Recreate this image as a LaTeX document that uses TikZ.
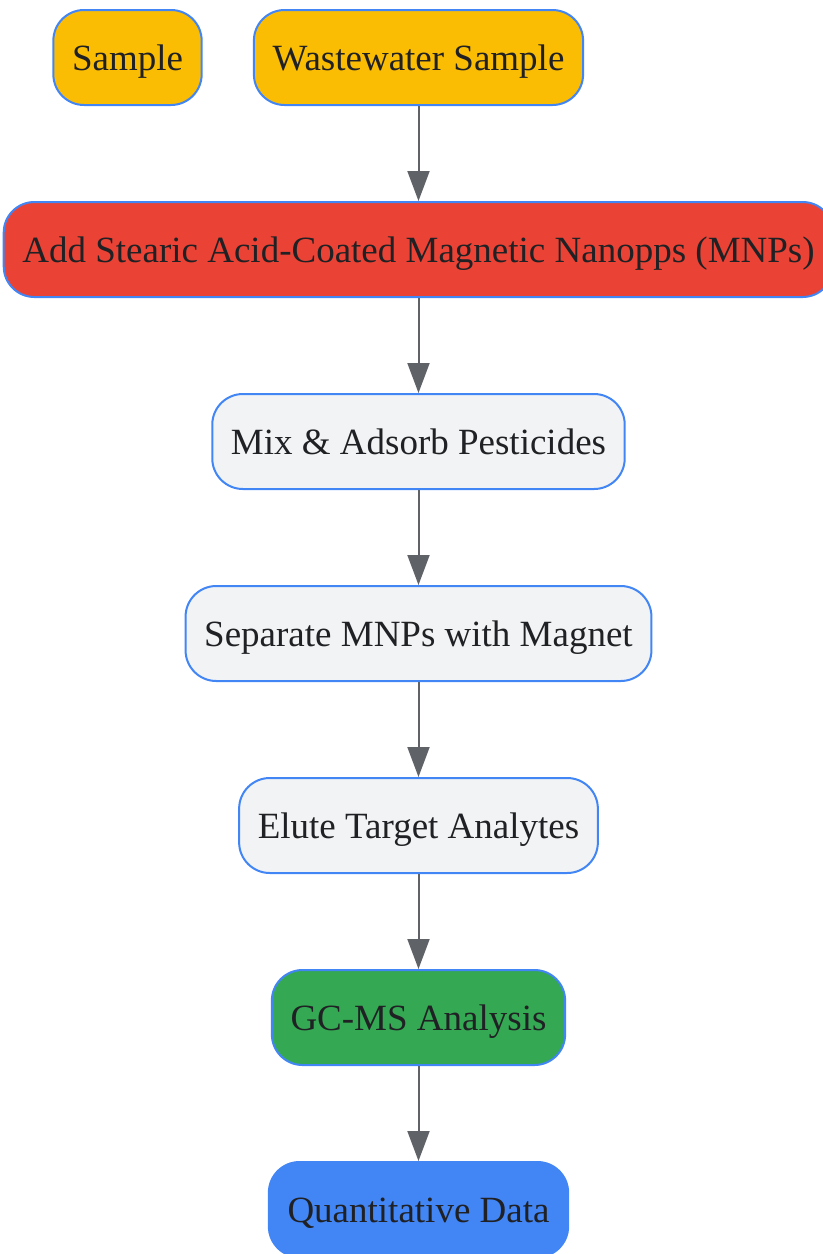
\documentclass[tikz,border=0pt]{standalone}
\usepackage{fontspec}
\setmainfont{Liberation Serif}
\usepackage{xcolor}
\usetikzlibrary{positioning,arrows.meta}
\definecolor{mgyellow}{HTML}{FBBC04}
\definecolor{mgred}{HTML}{EA4335}
\definecolor{mglight}{HTML}{F1F3F4}
\definecolor{mggreen}{HTML}{34A853}
\definecolor{mgblue}{HTML}{4285F4}
\definecolor{mgarrow}{HTML}{5F6368}
\definecolor{mgtext}{HTML}{202124}

\tikzset{
  stage/.style={draw=mgblue, line width=1.5pt, rounded corners=23pt,
    minimum height=71.25pt, inner xsep=14pt, inner ysep=0pt,
    text height=19pt, text depth=0pt,
    text=mgtext, font=\fontsize{27.75}{33}\selectfont, fill=mglight},
  flow/.style={draw=mgarrow, line width=1.5pt,
    -{Triangle[length=22.5pt,width=16.5pt]}}
}

\begin{document}
\begin{tikzpicture}
\useasboundingbox (0,0) rectangle (616.5pt,-940.5pt);

% Inputs
\node[stage, fill=mgyellow] (ws) at (313.875pt,-43.125pt) {Wastewater Sample};
\node[stage, fill=mgyellow] (smp) at (95.625pt,-43.125pt) {Sample};

% Extraction steps
\node[stage, fill=mgred, below=71.25pt of ws] (add) {Add Stearic Acid-Coated Magnetic Nanopps (MNPs)};
\node[stage, below=71.25pt of add] (mix) {Mix \& Adsorb Pesticides};
\node[stage, below=71.25pt of mix] (sep) {Separate MNPs with Magnet};
\node[stage, below=71.25pt of sep] (elu) {Elute Target Analytes};

% Analysis
\node[stage, fill=mggreen, below=71.25pt of elu] (gcms) {GC-MS Analysis};
\node[stage, fill=mgblue, below=71.25pt of gcms] (quant) {Quantitative Data};

\foreach \a/\b in {ws/add, add/mix, mix/sep, sep/elu, elu/gcms, gcms/quant} {
    \draw[flow] (\a) -- (\b);
}
\end{tikzpicture}
\end{document}
